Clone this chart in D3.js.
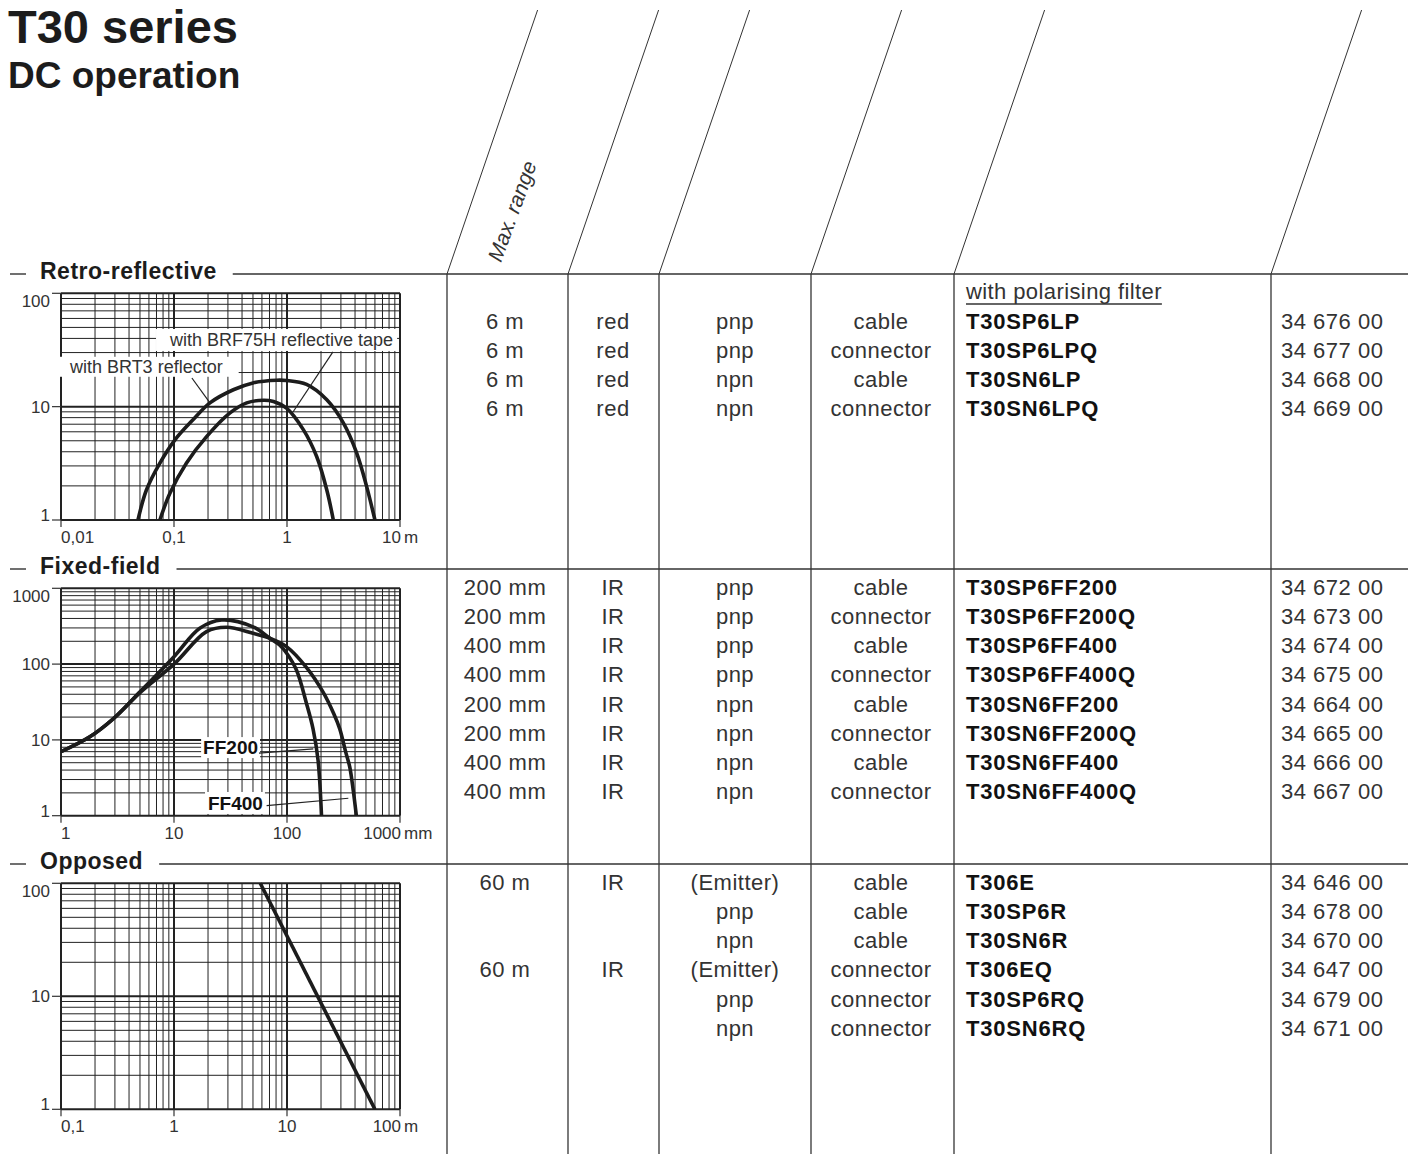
<!DOCTYPE html>
<html>
<head>
<meta charset="utf-8">
<script src="https://cdnjs.cloudflare.com/ajax/libs/d3/7.8.5/d3.min.js"></script>
<style>
  body { margin: 0; background: #fff; }
  svg text { font-family: "Liberation Sans", Arial, Helvetica, sans-serif; }
</style>
</head>
<body>
<svg id="sheet" width="1415" height="1154"></svg>
<script>
/********************************************************
 ********************* Data *****************************
 ********************************************************/
// retro-reflective curves: [distance m, excess gain]
var retroBrt3 = [[0.048,1],[0.057,1.84],[0.075,3.18],[0.102,5.1],[0.148,7.7],[0.208,10.8],
  [0.335,14.1],[0.5,16.2],[0.81,17.1],[0.99,17.0],[1.49,15.7],[2.25,11.5],[3.15,7.2],
  [4.14,3.9],[5.07,1.97],[6.0,1]];
var retroBrf75h = [[0.075,1],[0.092,1.72],[0.129,3.18],[0.195,5.46],[0.313,8.8],[0.44,10.8],
  [0.62,11.4],[0.76,11.1],[0.99,9.7],[1.39,6.3],[1.83,3.63],[2.25,1.84],[2.57,1]];
var retroXTicks = [0.01, 0.1, 1, 10];
var retroXLabels = ["0,01", "0,1", "1", "10"];
var retroYTicks = [1, 10, 100];

// fixed-field curves: [distance mm, excess gain]
var ff200Curve = [[1,7],[1.8,11],[2.9,19],[5,43],[10,125],[16.9,297],[26.4,382],[50,310],
  [70.5,219],[86,179],[99,140],[121,84],[149,30],[170,14],[188,5.5],[202,1]];
var ff400Curve = [[1,7],[1.8,11],[2.9,19],[5,42],[10,100],[19.4,268],[29.2,306],[50,255],
  [70.5,219],[99,170],[149,90],[208,43],[260,22],[293,14],[330,7],[359,4.4],[385,2.2],[411,1]];
var fixedXTicks = [1, 10, 100, 1000];
var fixedXLabels = ["1", "10", "100", "1000"];
var fixedYTicks = [1, 10, 100, 1000];

// opposed: [distance m, excess gain]
var opposedCurve = [[5.8,100],[60,1]];
var opposedXTicks = [0.1, 1, 10, 100];
var opposedXLabels = ["0,1", "1", "10", "100"];
var opposedYTicks = [1, 10, 100];

// table columns
var retroRange  = ["6 m", "6 m", "6 m", "6 m"];
var retroLight  = ["red", "red", "red", "red"];
var retroOutput = ["pnp", "pnp", "npn", "npn"];
var retroConn   = ["cable", "connector", "cable", "connector"];
var retroModel  = ["T30SP6LP", "T30SP6LPQ", "T30SN6LP", "T30SN6LPQ"];
var retroOrder  = ["34 676 00", "34 677 00", "34 668 00", "34 669 00"];

var fixedRange  = ["200 mm", "200 mm", "400 mm", "400 mm", "200 mm", "200 mm", "400 mm", "400 mm"];
var fixedLight  = ["IR", "IR", "IR", "IR", "IR", "IR", "IR", "IR"];
var fixedOutput = ["pnp", "pnp", "pnp", "pnp", "npn", "npn", "npn", "npn"];
var fixedConn   = ["cable", "connector", "cable", "connector", "cable", "connector", "cable", "connector"];
var fixedModel  = ["T30SP6FF200", "T30SP6FF200Q", "T30SP6FF400", "T30SP6FF400Q",
                   "T30SN6FF200", "T30SN6FF200Q", "T30SN6FF400", "T30SN6FF400Q"];
var fixedOrder  = ["34 672 00", "34 673 00", "34 674 00", "34 675 00",
                   "34 664 00", "34 665 00", "34 666 00", "34 667 00"];

var opposedRange  = ["60 m", "", "", "60 m", "", ""];
var opposedLight  = ["IR", "", "", "IR", "", ""];
var opposedOutput = ["(Emitter)", "pnp", "npn", "(Emitter)", "pnp", "npn"];
var opposedConn   = ["cable", "cable", "cable", "connector", "connector", "connector"];
var opposedModel  = ["T306E", "T30SP6R", "T30SN6R", "T306EQ", "T30SP6RQ", "T30SN6RQ"];
var opposedOrder  = ["34 646 00", "34 678 00", "34 670 00", "34 647 00", "34 679 00", "34 671 00"];

/********************************************************
 ********************* Page frame ***********************
 ********************************************************/
var svg = d3.select("#sheet");
var INK = "#1c1c1c";

svg.append("text").attr("x", 8).attr("y", 43).attr("font-size", 47)
  .attr("font-weight", "bold").attr("fill", INK).text("T30 series");
svg.append("text").attr("x", 8).attr("y", 88).attr("font-size", 37)
  .attr("font-weight", "bold").attr("fill", INK).text("DC operation");

// column rules, slanted in the header, straight below
var colLines = [447, 568, 659, 811, 954, 1271];
var headY = 274, headTop = 10, slant = 90.6;
colLines.forEach(function(cx) {
  svg.append("line").attr("x1", cx).attr("y1", headY).attr("x2", cx + slant).attr("y2", headTop)
    .attr("stroke", "#333").attr("stroke-width", 1);
  svg.append("line").attr("x1", cx).attr("y1", headY).attr("x2", cx).attr("y2", 1154)
    .attr("stroke", "#444").attr("stroke-width", 1.4);
});

svg.append("text")
  .attr("transform", "translate(501,263) rotate(-70)")
  .attr("font-size", 21).attr("font-style", "italic").attr("fill", "#333")
  .text("Max. range");

//section header lines
function drawSection(title, lineY) {
  svg.append("line").attr("x1", 10).attr("x2", 26).attr("y1", lineY).attr("y2", lineY)
    .attr("stroke", "#333").attr("stroke-width", 1.4);
  var t = svg.append("text").attr("x", 40).attr("y", lineY + 5).attr("font-size", 23)
    .attr("font-weight", "bold").attr("letter-spacing", 0.5).attr("fill", INK).text(title);
  var end = 40 + t.node().getComputedTextLength();
  svg.append("line").attr("x1", end + 16).attr("x2", 1408).attr("y1", lineY).attr("y2", lineY)
    .attr("stroke", "#333").attr("stroke-width", 1.4);
}
drawSection("Retro-reflective", 274);
drawSection("Fixed-field", 569);
drawSection("Opposed", 864);

/********************************************************
 ********************* Table rows ***********************
 ********************************************************/
var centers = [505, 613, 735, 881];
var modelX = 966, orderX = 1281, rowStep = 29.15;

function drawRows(y0, range, light, output, conn, model, order) {
  var cols = [range, light, output, conn];
  for (var i = 0; i < model.length; i++) {
    var y = y0 + i * rowStep;
    cols.forEach(function(col, c) {
      if (col[i] == "") return;
      svg.append("text").attr("x", centers[c]).attr("y", y).attr("text-anchor", "middle")
        .attr("font-size", 22).attr("letter-spacing", 0.5).attr("fill", "#333").text(col[i]);
    });
    svg.append("text").attr("x", modelX).attr("y", y).attr("font-size", 22)
      .attr("font-weight", "bold").attr("letter-spacing", 0.8).attr("fill", "#111").text(model[i]);
    svg.append("text").attr("x", orderX).attr("y", y).attr("font-size", 22)
      .attr("letter-spacing", 0.5).attr("fill", "#333").text(order[i]);
  }
}

var filt = svg.append("text").attr("x", modelX).attr("y", 298.5).attr("font-size", 22)
  .attr("letter-spacing", 0.4).attr("fill", "#333").text("with polarising filter");
svg.append("line").attr("x1", modelX).attr("x2", modelX + filt.node().getComputedTextLength())
  .attr("y1", 304).attr("y2", 304).attr("stroke", "#333").attr("stroke-width", 1.3);

drawRows(329, retroRange, retroLight, retroOutput, retroConn, retroModel, retroOrder);
drawRows(595, fixedRange, fixedLight, fixedOutput, fixedConn, fixedModel, fixedOrder);
drawRows(890, opposedRange, opposedLight, opposedOutput, opposedConn, opposedModel, opposedOrder);

/********************************************************
 ********************* Charts ***************************
 ********************************************************/
var chartCount = 0;
function drawChart(c) {
  chartCount++;
  var x = d3.scaleLog().domain(c.xDomain).range([c.left, c.right]);
  var y = d3.scaleLog().domain(c.yDomain).range([c.bottom, c.top]);
  var g = svg.append("g");

  function isDecade(v) {
    var l = Math.log10(v);
    return Math.abs(l - Math.round(l)) < 1e-6;
  }

  // grid
  g.selectAll(".vg").data(x.ticks()).enter().append("line")
    .attr("x1", function(d) { return x(d); }).attr("x2", function(d) { return x(d); })
    .attr("y1", c.top).attr("y2", c.bottom)
    .attr("stroke", "#222").attr("stroke-width", function(d) { return isDecade(d) ? 2 : 1; });
  g.selectAll(".hg").data(y.ticks()).enter().append("line")
    .attr("y1", function(d) { return y(d); }).attr("y2", function(d) { return y(d); })
    .attr("x1", c.left).attr("x2", c.right)
    .attr("stroke", "#222").attr("stroke-width", function(d) { return isDecade(d) ? 2 : 1; });

  // ticks outside the grid
  g.selectAll(".yt").data(c.yTicks).enter().append("line")
    .attr("x1", c.left - 9).attr("x2", c.left)
    .attr("y1", function(d) { return y(d); }).attr("y2", function(d) { return y(d); })
    .attr("stroke", "#333").attr("stroke-width", 1.2);
  g.selectAll(".xt").data(c.xTicks).enter().append("line")
    .attr("x1", function(d) { return x(d); }).attr("x2", function(d) { return x(d); })
    .attr("y1", c.bottom).attr("y2", c.bottom + 7)
    .attr("stroke", "#333").attr("stroke-width", 1.2);

  // y labels: top hangs below its line, bottom sits on it
  var ny = c.yTicks.length;
  g.selectAll(".yl").data(c.yTicks).enter().append("text")
    .attr("x", c.left - 11)
    .attr("y", function(d, i) {
      if (i == ny - 1) return y(d) + 14;
      if (i == 0) return y(d) + 1;
      return y(d) + 6;
    })
    .attr("text-anchor", "end").attr("font-size", 17).attr("fill", "#333")
    .text(function(d) { return d; });

  // x labels
  var nx = c.xTicks.length;
  g.selectAll(".xl").data(c.xTicks).enter().append("text")
    .attr("x", function(d, i) { return i == nx - 1 ? x(d) + 1 : x(d); })
    .attr("y", c.bottom + 23)
    .attr("text-anchor", function(d, i) { return i == 0 ? "start" : (i == nx - 1 ? "end" : "middle"); })
    .attr("font-size", 17).attr("fill", "#333")
    .text(function(d, i) { return c.xLabels[i]; });
  g.append("text").attr("x", c.right + 4).attr("y", c.bottom + 23)
    .attr("font-size", 17).attr("fill", "#333").text(c.unit);

  // curves
  var clipId = "clip" + chartCount;
  svg.append("clipPath").attr("id", clipId).append("rect")
    .attr("x", c.left).attr("y", c.top - 1).attr("width", c.right - c.left).attr("height", c.bottom - c.top + 1);
  var line = d3.line()
    .x(function(d) { return x(d[0]); })
    .y(function(d) { return y(d[1]); })
    .curve(d3.curveCatmullRom.alpha(0.5));
  g.append("g").attr("clip-path", "url(#" + clipId + ")")
    .selectAll("path").data(c.curves).enter().append("path")
    .attr("d", line).attr("fill", "none").attr("stroke", INK).attr("stroke-width", 3.6);

  // labels with white boxes and leader lines
  (c.notes || []).forEach(function(n) {
    var t = g.append("text").attr("x", x(n.at[0])).attr("y", y(n.at[1]))
      .attr("font-size", n.size).attr("font-weight", n.bold ? "bold" : "normal")
      .attr("fill", n.bold ? "#111" : "#333").text(n.text);
    var bb = t.node().getBBox();
    var p = n.pad;
    g.insert("rect", function() { return t.node(); })
      .attr("x", bb.x - p[0]).attr("y", bb.y - p[2])
      .attr("width", bb.width + p[0] + p[1]).attr("height", bb.height + p[2] + p[3])
      .attr("fill", "#fff");
    g.append("line")
      .attr("x1", x(n.lead[0][0])).attr("y1", y(n.lead[0][1]))
      .attr("x2", x(n.lead[1][0])).attr("y2", y(n.lead[1][1]))
      .attr("stroke", "#222").attr("stroke-width", 1.2);
  });
}

drawChart({
  left: 61, right: 400, top: 293.3, bottom: 520,
  xDomain: [0.01, 10], yDomain: [1, 100],
  xTicks: retroXTicks, xLabels: retroXLabels, unit: "m", yTicks: retroYTicks,
  curves: [retroBrt3, retroBrf75h],
  notes: [
    { text: "with BRF75H reflective tape", at: [0.0922, 34.3], size: 18, bold: false,
      pad: [13, 4, 1, 1], lead: [[2.55, 30.4], [1.13, 8.97]] },
    { text: "with BRT3 reflector", at: [0.012, 19.9], size: 18, bold: false,
      pad: [10, 16, 0, 0], lead: [[0.144, 17.9], [0.208, 10.8]] }
  ]
});

drawChart({
  left: 61, right: 400, top: 588.3, bottom: 815.7,
  xDomain: [1, 1000], yDomain: [1, 1000],
  xTicks: fixedXTicks, xLabels: fixedXLabels, unit: "mm", yTicks: fixedYTicks,
  curves: [ff200Curve, ff400Curve],
  notes: [
    { text: "FF200", at: [18.1, 6.5], size: 19, bold: true,
      pad: [2, 2, 0, 0], lead: [[56.5, 6.7], [171, 7.6]] },
    { text: "FF400", at: [20, 1.19], size: 19, bold: true,
      pad: [3, 2, 1, 0], lead: [[66, 1.36], [349, 1.7]] }
  ]
});

drawChart({
  left: 61, right: 400, top: 883.3, bottom: 1109.3,
  xDomain: [0.1, 100], yDomain: [1, 100],
  xTicks: opposedXTicks, xLabels: opposedXLabels, unit: "m", yTicks: opposedYTicks,
  curves: [opposedCurve]
});
</script>
</body>
</html>
